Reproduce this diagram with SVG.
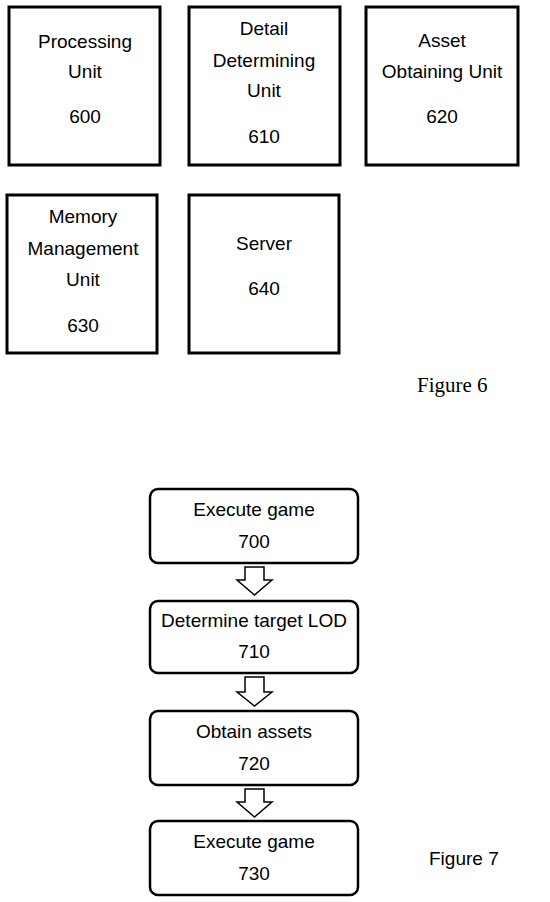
<svg xmlns="http://www.w3.org/2000/svg" width="550" height="902" viewBox="0 0 550 902">
<style>
.box{fill:#fff;stroke:#000;stroke-width:3}
.rbox{fill:#fff;stroke:#000;stroke-width:2.5}
.t{font-family:"Liberation Sans",Arial,sans-serif;font-size:19px;fill:#000;text-anchor:middle}
.fig6{font-family:"Liberation Serif","Times New Roman",serif;font-size:21px;fill:#000}
.fig7{font-family:"Liberation Sans",Arial,sans-serif;font-size:19px;fill:#000}
.arr{fill:#fff;stroke:#000;stroke-width:1.5;stroke-linejoin:miter}
</style>
<rect width="550" height="902" fill="#fff"/>
<g id="n600">
<rect class="box" x="9" y="7" width="151" height="158"/>
<text class="t" x="85" y="48">Processing</text>
<text class="t" x="85" y="78">Unit</text>
<text class="t" x="85" y="123">600</text>
</g>
<g id="n610">
<rect class="box" x="189" y="7" width="151" height="158"/>
<text class="t" x="264" y="35">Detail</text>
<text class="t" x="264" y="67">Determining</text>
<text class="t" x="264" y="97">Unit</text>
<text class="t" x="264" y="143">610</text>
</g>
<g id="n620">
<rect class="box" x="366" y="7" width="152" height="158"/>
<text class="t" x="442" y="47">Asset</text>
<text class="t" x="442" y="78">Obtaining Unit</text>
<text class="t" x="442" y="123">620</text>
</g>
<g id="n630">
<rect class="box" x="7" y="195" width="150" height="158"/>
<text class="t" x="83" y="223">Memory</text>
<text class="t" x="83" y="255">Management</text>
<text class="t" x="83" y="286">Unit</text>
<text class="t" x="83" y="332">630</text>
</g>
<g id="n640">
<rect class="box" x="189" y="195" width="150" height="158"/>
<text class="t" x="264" y="250">Server</text>
<text class="t" x="264" y="295">640</text>
</g>
<text class="fig6" x="417" y="392">Figure 6</text>
<g id="n700">
<rect class="rbox" x="150" y="489" width="208" height="74" rx="8"/>
<text class="t" x="254" y="516">Execute game</text>
<text class="t" x="254" y="548">700</text>
</g>
<g id="n710">
<rect class="rbox" x="150" y="601" width="208" height="72" rx="8"/>
<text class="t" x="254" y="627">Determine target LOD</text>
<text class="t" x="254" y="658">710</text>
</g>
<g id="n720">
<rect class="rbox" x="150" y="711" width="208" height="74" rx="8"/>
<text class="t" x="254" y="738">Obtain assets</text>
<text class="t" x="254" y="770">720</text>
</g>
<g id="n730">
<rect class="rbox" x="150" y="821" width="208" height="74" rx="8"/>
<text class="t" x="254" y="848">Execute game</text>
<text class="t" x="254" y="880">730</text>
</g>
<g id="connectors">
<path class="arr" d="M245,567 H264 V580 H272 L254.5,595 L237,580 H245 Z"/>
<path class="arr" d="M245,677 H264 V692 H272 L254.5,706 L237,692 H245 Z"/>
<path class="arr" d="M245,789 H264 V802 H272 L254.5,817 L237,802 H245 Z"/>
</g>
<text class="fig7" x="429" y="865">Figure 7</text>
</svg>
